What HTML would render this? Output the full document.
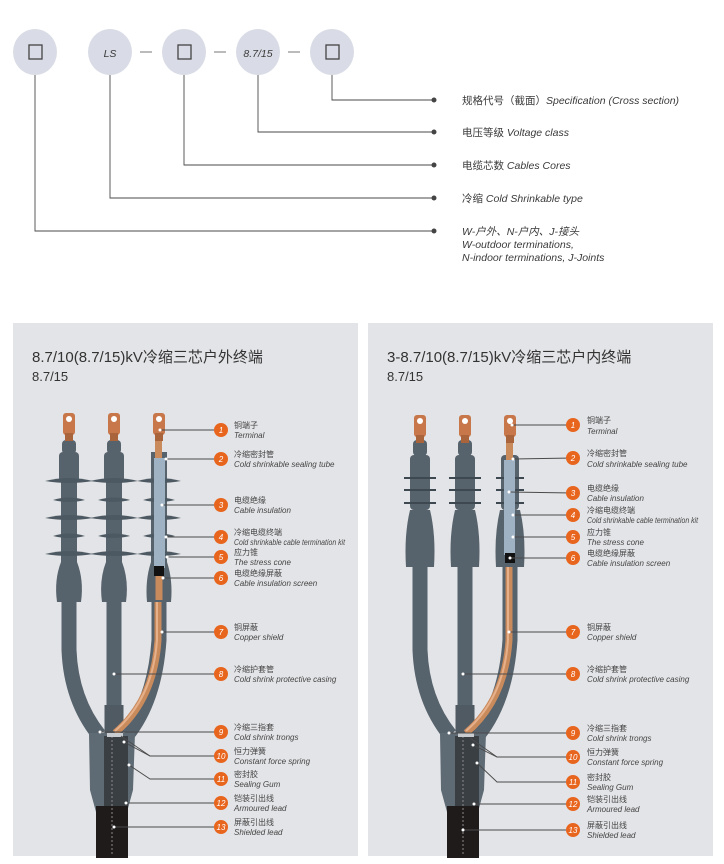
<!DOCTYPE html>
<html><head><meta charset="utf-8"><style>
html,body{margin:0;padding:0;background:#fff;}
svg{display:block;font-family:"Liberation Sans","Noto Sans CJK SC",sans-serif;}
.t{font-size:10.5px;fill:#3a3a3a}
.i{font-style:italic}
.cn{font-size:8px;fill:#444}
.en{font-size:8px;fill:#444;font-style:italic}
.nm{font-size:8px;fill:#fff;font-style:italic;text-anchor:middle}
.ld{stroke:#4a4a4a;stroke-width:0.9;fill:none}
</style></head><body>
<svg width="724" height="864" viewBox="0 0 724 864" xmlns="http://www.w3.org/2000/svg">
<defs>
<g id="cable">
  <path d="M420 560 L420 650 Q422 700 450 735" stroke="#56626c" stroke-width="15" fill="none"/>
  <path d="M465 560 L465 735" stroke="#56626c" stroke-width="15" fill="none"/>
  <path d="M510 560 L510 640 Q506 700 478 735" stroke="#56626c" stroke-width="15" fill="none"/>
  <path d="M465 705 L465 735" stroke="#4f5a63" stroke-width="19" fill="none"/>
  <path d="M509 565 L509 640 Q505 700 466 733" stroke="#c98a5c" stroke-width="7" fill="none"/>
  <path d="M508 565 L508 640 Q504 698 466 731" stroke="#e6b08a" stroke-width="2" fill="none"/>
  <polygon points="440,733 486,733 484,790 478,812 447,812 441,790" fill="#5e6a74"/>
  <rect x="455" y="736" width="24" height="70" fill="#3a3f44"/>
  <rect x="447" y="806" width="32" height="52" fill="#1f1b1b"/>
  <line x1="463" y1="736" x2="463" y2="856" stroke="#8a8a8a" stroke-width="1" stroke-dasharray="2,2"/>
  <rect x="458" y="733" width="16" height="4" fill="#c9ccd0"/>
</g>
<g id="term">
  <rect x="-6" y="0" width="12" height="22" rx="3" fill="#c8774a"/>
  <circle cx="0" cy="6" r="3" fill="#fff"/>
  <rect x="-4" y="20" width="8" height="8" fill="#a9643c"/>
</g>
</defs>

<g fill="#d9dce6">
<ellipse cx="35" cy="52" rx="22" ry="23"/>
<ellipse cx="110" cy="52" rx="22" ry="23"/>
<ellipse cx="184" cy="52" rx="22" ry="23"/>
<ellipse cx="258" cy="52" rx="22" ry="23"/>
<ellipse cx="332" cy="52" rx="22" ry="23"/>
</g>
<g fill="none" stroke="#444" stroke-width="1.3">
<rect x="29" y="45" width="13" height="14"/>
<rect x="178" y="45" width="13" height="14"/>
<rect x="326" y="45" width="13" height="14"/>
</g>
<text x="110" y="57" class="t i" text-anchor="middle" font-size="12">LS</text>
<text x="258" y="57" class="t i" text-anchor="middle" font-size="12">8.7/15</text>
<g stroke="#777" stroke-width="1">
<line x1="140" y1="52" x2="152" y2="52"/><line x1="214" y1="52" x2="226" y2="52"/><line x1="288" y1="52" x2="300" y2="52"/>
</g>
<g class="ld" stroke="#555" stroke-width="1.2">
<polyline points="332,75 332,100 434,100"/>
<polyline points="258,75 258,132 434,132"/>
<polyline points="184,75 184,165 434,165"/>
<polyline points="110,75 110,198 434,198"/>
<polyline points="35,75 35,231 434,231"/>
</g>
<g fill="#444"><circle cx="434" cy="100" r="2.5"/><circle cx="434" cy="132" r="2.5"/><circle cx="434" cy="165" r="2.5"/><circle cx="434" cy="198" r="2.5"/><circle cx="434" cy="231" r="2.5"/></g>
<text x="462" y="104" class="t">规格代号（截面）<tspan class="i">Specification (Cross section)</tspan></text>
<text x="462" y="136" class="t">电压等级 <tspan class="i">Voltage class</tspan></text>
<text x="462" y="169" class="t">电缆芯数 <tspan class="i">Cables Cores</tspan></text>
<text x="462" y="202" class="t">冷缩 <tspan class="i">Cold Shrinkable type</tspan></text>
<text x="462" y="235" class="t i">W-户外、N-户内、J-接头</text>
<text x="462" y="248" class="t i">W-outdoor terminations,</text>
<text x="462" y="261" class="t i">N-indoor terminations, J-Joints</text>

<rect x="13" y="323" width="345" height="533" fill="#e3e4e7"/>
<rect x="368" y="323" width="345" height="533" fill="#e3e4e7"/>
<text x="32" y="362" font-size="15" fill="#333">8.7/10(8.7/15)kV冷缩三芯户外终端</text>
<text x="32" y="381" font-size="13" fill="#333">8.7/15</text>
<text x="387" y="362" font-size="15" fill="#333">3-8.7/10(8.7/15)kV冷缩三芯户内终端</text>
<text x="387" y="381" font-size="13" fill="#333">8.7/15</text>

<use href="#cable"/>
<g fill="#56626c">
  <rect x="413" y="440" width="14" height="16" rx="4"/>
  <rect x="410" y="455" width="20" height="55" rx="4"/>
  <path d="M410 510 Q404 535 406 567 L434 567 Q436 535 430 510 Z"/>
  <rect x="458" y="440" width="14" height="16" rx="4"/>
  <rect x="455" y="455" width="20" height="55" rx="4"/>
  <path d="M455 510 Q449 535 451 567 L479 567 Q481 535 475 510 Z"/>
  <path d="M500 510 Q494 535 496 567 L524 567 Q526 535 520 510 Z"/>
  <rect x="501" y="455" width="18" height="55" rx="4"/>
</g>
<g stroke="#3e4850" stroke-width="2">
  <line x1="404" y1="478" x2="436" y2="478"/><line x1="404" y1="490" x2="436" y2="490"/><line x1="404" y1="503" x2="436" y2="503"/>
  <line x1="449" y1="478" x2="481" y2="478"/><line x1="449" y1="490" x2="481" y2="490"/><line x1="449" y1="503" x2="481" y2="503"/>
  <line x1="496" y1="478" x2="524" y2="478"/><line x1="496" y1="490" x2="524" y2="490"/><line x1="496" y1="503" x2="524" y2="503"/>
</g>
<rect x="506" y="440" width="7" height="22" fill="#c98a5c"/>
<rect x="504" y="460" width="11" height="95" fill="#9fb2c4"/>
<rect x="505" y="553" width="10" height="10" fill="#111"/>
<use href="#term" x="420" y="415"/><use href="#term" x="465" y="415"/><use href="#term" x="510" y="415"/>

<g transform="translate(-351,0)">
<use href="#cable"/>
<g fill="#56626c">
  <rect x="413" y="440" width="14" height="14" rx="4"/>
  <rect x="410" y="452" width="20" height="30" rx="4"/>
  <rect x="412" y="480" width="16" height="85"/>
  <path d="M412 562 Q405 580 408 602 L432 602 Q435 580 428 562 Z"/>
  <rect x="458" y="440" width="14" height="14" rx="4"/>
  <rect x="455" y="452" width="20" height="30" rx="4"/>
  <rect x="457" y="480" width="16" height="85"/>
  <path d="M457 562 Q450 580 453 602 L477 602 Q480 580 473 562 Z"/>
  <rect x="502" y="452" width="16" height="113"/>
  <path d="M502 562 Q496 580 498 602 L522 602 Q524 580 518 562 Z"/>
</g>
<g fill="#4d5962">
  <path d="M396 481 Q420 475 444 481 Q420 485 396 481Z"/><path d="M404 500 Q420 495 436 500 Q420 504 404 500Z"/>
  <path d="M396 518 Q420 512 444 518 Q420 522 396 518Z"/><path d="M404 536 Q420 531 436 536 Q420 540 404 536Z"/>
  <path d="M396 554 Q420 548 444 554 Q420 558 396 554Z"/>
  <path d="M441 481 Q465 475 489 481 Q465 485 441 481Z"/><path d="M449 500 Q465 495 481 500 Q465 504 449 500Z"/>
  <path d="M441 518 Q465 512 489 518 Q465 522 441 518Z"/><path d="M449 536 Q465 531 481 536 Q465 540 449 536Z"/>
  <path d="M441 554 Q465 548 489 554 Q465 558 441 554Z"/>
  <path d="M488 481 Q510 475 532 481 Q510 485 488 481Z"/><path d="M494 500 Q510 495 526 500 Q510 504 494 500Z"/>
  <path d="M488 518 Q510 512 532 518 Q510 522 488 518Z"/><path d="M494 536 Q510 531 526 536 Q510 540 494 536Z"/>
  <path d="M488 554 Q510 548 532 554 Q510 558 488 554Z"/>
</g>
<rect x="506" y="438" width="7" height="22" fill="#c98a5c"/>
<rect x="505" y="458" width="11" height="110" fill="#9fb2c4"/>
<rect x="505" y="566" width="10" height="10" fill="#111"/>
<path d="M510 576 L510 600" stroke="#c98a5c" stroke-width="7"/>
<use href="#term" x="420" y="413"/><use href="#term" x="465" y="413"/><use href="#term" x="510" y="413"/>
</g>

<g class="ld">
<polyline points="512,425 573,425"/><polyline points="513,459 573,458"/><polyline points="509,492 573,493"/>
<polyline points="513,515 573,515"/><polyline points="513,537 573,537"/><polyline points="510,558 573,558"/>
<polyline points="509,632 573,632"/><polyline points="463,674 573,674"/><polyline points="449,733 573,733"/>
<polyline points="473,745 497,757 573,757"/><polyline points="470,738 497,757"/><polyline points="477,763 497,782 573,782"/>
<polyline points="474,804 573,804"/><polyline points="463,830 573,830"/>
</g>
<g class="ld">
<polyline points="160,430 221,430"/><polyline points="166,459 221,459"/><polyline points="162,505 221,505"/>
<polyline points="166,537 221,537"/><polyline points="167,557 221,557"/><polyline points="163,578 221,578"/>
<polyline points="162,632 221,632"/><polyline points="114,674 221,674"/><polyline points="100,732 221,732"/>
<polyline points="124,742 150,756 221,756"/><polyline points="121,736 150,756"/><polyline points="129,765 150,779 221,779"/>
<polyline points="126,803 221,803"/><polyline points="114,827 221,827"/>
</g>
<g fill="#fff">
<circle cx="512" cy="425" r="1.5"/><circle cx="513" cy="459" r="1.5"/><circle cx="509" cy="492" r="1.5"/><circle cx="513" cy="515" r="1.5"/><circle cx="513" cy="537" r="1.5"/><circle cx="510" cy="558" r="1.5"/><circle cx="509" cy="632" r="1.5"/><circle cx="463" cy="674" r="1.5"/><circle cx="449" cy="733" r="1.5"/><circle cx="473" cy="745" r="1.5"/><circle cx="477" cy="763" r="1.5"/><circle cx="474" cy="804" r="1.5"/><circle cx="463" cy="830" r="1.5"/>
<circle cx="160" cy="430" r="1.5"/><circle cx="166" cy="459" r="1.5"/><circle cx="162" cy="505" r="1.5"/><circle cx="166" cy="537" r="1.5"/><circle cx="167" cy="557" r="1.5"/><circle cx="163" cy="578" r="1.5"/><circle cx="162" cy="632" r="1.5"/><circle cx="114" cy="674" r="1.5"/><circle cx="100" cy="732" r="1.5"/><circle cx="124" cy="742" r="1.5"/><circle cx="129" cy="765" r="1.5"/><circle cx="126" cy="803" r="1.5"/><circle cx="114" cy="827" r="1.5"/>
</g>

<g>
<g fill="#e8651e">
<circle cx="221" cy="430" r="7"/><circle cx="221" cy="459" r="7"/><circle cx="221" cy="505" r="7"/><circle cx="221" cy="537" r="7"/><circle cx="221" cy="557" r="7"/><circle cx="221" cy="578" r="7"/><circle cx="221" cy="632" r="7"/><circle cx="221" cy="674" r="7"/><circle cx="221" cy="732" r="7"/><circle cx="221" cy="756" r="7"/><circle cx="221" cy="779" r="7"/><circle cx="221" cy="803" r="7"/><circle cx="221" cy="827" r="7"/>
</g>
<text x="221" y="433" class="nm">1</text><text x="221" y="462" class="nm">2</text><text x="221" y="508" class="nm">3</text><text x="221" y="540" class="nm">4</text><text x="221" y="560" class="nm">5</text><text x="221" y="581" class="nm">6</text><text x="221" y="635" class="nm">7</text><text x="221" y="677" class="nm">8</text><text x="221" y="735" class="nm">9</text><text x="221" y="759" class="nm">10</text><text x="221" y="782" class="nm">11</text><text x="221" y="806" class="nm">12</text><text x="221" y="830" class="nm">13</text>
<text x="234" y="428" class="cn">铜端子</text><text x="234" y="438" class="en">Terminal</text>
<text x="234" y="457" class="cn">冷缩密封管</text><text x="234" y="467" class="en">Cold shrinkable sealing tube</text>
<text x="234" y="503" class="cn">电缆绝缘</text><text x="234" y="513" class="en">Cable insulation</text>
<text x="234" y="535" class="cn">冷缩电缆终端</text><text x="234" y="545" class="en" textLength="111" lengthAdjust="spacingAndGlyphs">Cold shrinkable cable termination kit</text>
<text x="234" y="555" class="cn">应力锥</text><text x="234" y="565" class="en">The stress cone</text>
<text x="234" y="576" class="cn">电缆绝缘屏蔽</text><text x="234" y="586" class="en">Cable insulation screen</text>
<text x="234" y="630" class="cn">铜屏蔽</text><text x="234" y="640" class="en">Copper shield</text>
<text x="234" y="672" class="cn">冷缩护套管</text><text x="234" y="682" class="en">Cold shrink protective casing</text>
<text x="234" y="730" class="cn">冷缩三指套</text><text x="234" y="740" class="en">Cold shrink trongs</text>
<text x="234" y="754" class="cn">恒力弹簧</text><text x="234" y="764" class="en">Constant force spring</text>
<text x="234" y="777" class="cn">密封胶</text><text x="234" y="787" class="en">Sealing Gum</text>
<text x="234" y="801" class="cn">铠装引出线</text><text x="234" y="811" class="en">Armoured lead</text>
<text x="234" y="825" class="cn">屏蔽引出线</text><text x="234" y="835" class="en">Shielded lead</text>
</g>

<g>
<g fill="#e8651e">
<circle cx="573" cy="425" r="7"/><circle cx="573" cy="458" r="7"/><circle cx="573" cy="493" r="7"/><circle cx="573" cy="515" r="7"/><circle cx="573" cy="537" r="7"/><circle cx="573" cy="558" r="7"/><circle cx="573" cy="632" r="7"/><circle cx="573" cy="674" r="7"/><circle cx="573" cy="733" r="7"/><circle cx="573" cy="757" r="7"/><circle cx="573" cy="782" r="7"/><circle cx="573" cy="804" r="7"/><circle cx="573" cy="830" r="7"/>
</g>
<text x="573" y="428" class="nm">1</text><text x="573" y="461" class="nm">2</text><text x="573" y="496" class="nm">3</text><text x="573" y="518" class="nm">4</text><text x="573" y="540" class="nm">5</text><text x="573" y="561" class="nm">6</text><text x="573" y="635" class="nm">7</text><text x="573" y="677" class="nm">8</text><text x="573" y="736" class="nm">9</text><text x="573" y="760" class="nm">10</text><text x="573" y="785" class="nm">11</text><text x="573" y="807" class="nm">12</text><text x="573" y="833" class="nm">13</text>
<text x="587" y="423" class="cn">铜端子</text><text x="587" y="434" class="en">Terminal</text>
<text x="587" y="456" class="cn">冷缩密封管</text><text x="587" y="467" class="en">Cold shrinkable sealing tube</text>
<text x="587" y="491" class="cn">电缆绝缘</text><text x="587" y="501" class="en">Cable insulation</text>
<text x="587" y="513" class="cn">冷缩电缆终端</text><text x="587" y="523" class="en" textLength="111" lengthAdjust="spacingAndGlyphs">Cold shrinkable cable termination kit</text>
<text x="587" y="535" class="cn">应力锥</text><text x="587" y="545" class="en">The stress cone</text>
<text x="587" y="556" class="cn">电缆绝缘屏蔽</text><text x="587" y="566" class="en">Cable insulation screen</text>
<text x="587" y="630" class="cn">铜屏蔽</text><text x="587" y="640" class="en">Copper shield</text>
<text x="587" y="672" class="cn">冷缩护套管</text><text x="587" y="682" class="en">Cold shrink protective casing</text>
<text x="587" y="731" class="cn">冷缩三指套</text><text x="587" y="741" class="en">Cold shrink trongs</text>
<text x="587" y="755" class="cn">恒力弹簧</text><text x="587" y="765" class="en">Constant force spring</text>
<text x="587" y="780" class="cn">密封胶</text><text x="587" y="790" class="en">Sealing Gum</text>
<text x="587" y="802" class="cn">铠装引出线</text><text x="587" y="812" class="en">Armoured lead</text>
<text x="587" y="828" class="cn">屏蔽引出线</text><text x="587" y="838" class="en">Shielded lead</text>
</g>
</svg>
</body></html>
